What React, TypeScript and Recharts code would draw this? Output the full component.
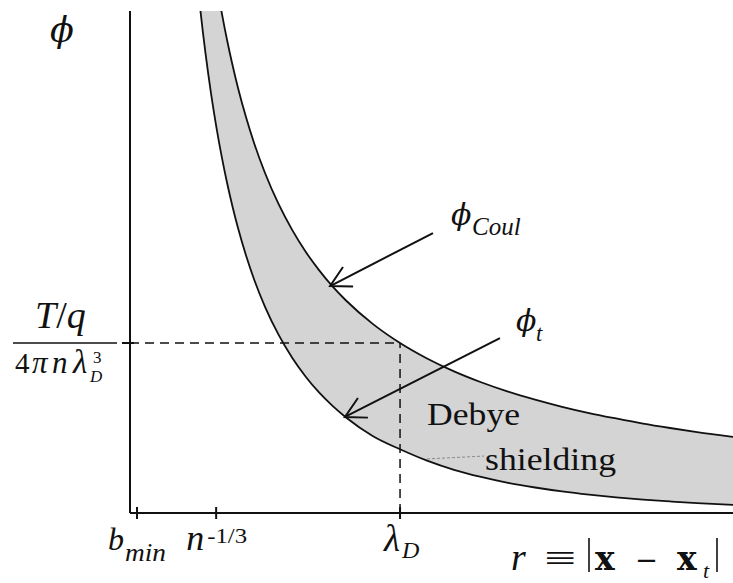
import React from 'react';
import { ComposedChart, Area, Line, XAxis, YAxis, ReferenceLine } from 'recharts';

// Separation r, in units of the Debye length λ_D
const radius = [
  0.24, 0.25, 0.26, 0.27, 0.28, 0.3, 0.32, 0.34, 0.36, 0.38, 0.4, 0.43, 0.46, 0.5, 0.55, 0.6, 0.65,
  0.7, 0.75, 0.8, 0.9, 1.0, 1.1, 1.2, 1.3, 1.4, 1.5, 1.6, 1.7, 1.8, 1.9, 2.0, 2.1, 2.233,
];
// Bare Coulomb potential, in units of (T/q)/(4π n λ_D³)
const phiCoul = [
  4.167, 4.0, 3.846, 3.704, 3.571, 3.333, 3.125, 2.941, 2.778, 2.632, 2.5, 2.326, 2.174, 2.0, 1.818,
  1.667, 1.538, 1.429, 1.333, 1.25, 1.111, 1.0, 0.909, 0.833, 0.769, 0.714, 0.667, 0.625, 0.588,
  0.556, 0.526, 0.5, 0.476, 0.448,
];
// Debye-shielded test-charge potential, same units
const phiShielded = [
  3.278, 3.115, 2.966, 2.827, 2.699, 2.469, 2.269, 2.093, 1.938, 1.8, 1.676, 1.513, 1.372, 1.213,
  1.049, 0.915, 0.803, 0.709, 0.63, 0.562, 0.452, 0.375, 0.308, 0.254, 0.212, 0.177, 0.15, 0.127,
  0.108, 0.092, 0.079, 0.068, 0.058, 0.048,
];

// Marked positions on the r axis: b_min, n^-1/3, λ_D
const rTicks = [0.026, 0.319, 1];
// Marked level on the potential axis
const phiTicks = [1];

// Annotation geometry, in data units
const coulArrow = [{ x: 1.122, y: 1.647 }, { x: 0.741, y: 1.335 }];
const shieldArrow = [{ x: 1.37, y: 1.029 }, { x: 0.796, y: 0.565 }];
const shieldPointer = [{ x: 1.1, y: 0.318 }, { x: 1.311, y: 0.335 }];
const levelLine = [{ x: 0, y: 1 }, { x: 1, y: 1 }];
const debyeLine = [{ x: 1, y: 0 }, { x: 1, y: 1 }];

const rows = radius.map((r, i) => ({
  r,
  coul: phiCoul[i],
  shielded: phiShielded[i],
  band: [phiShielded[i], phiCoul[i]],
}));

const INK = '#111';
const ROMAN = '"Liberation Serif", "DejaVu Serif", serif';
const WIDE = '"DejaVu Serif", "Liberation Serif", serif';

// Math-style glyph helpers; w sets a run's advance width
const It = ({ x, y, s, w, children }: any) => (
  <text
    x={x}
    y={y}
    fontSize={s}
    fontFamily={ROMAN}
    fontStyle="italic"
    fill={INK}
    textLength={w}
    lengthAdjust={w ? 'spacingAndGlyphs' : undefined}
  >
    {children}
  </text>
);
const Rm = ({ x, y, s, w, children, family }: any) => (
  <text
    x={x}
    y={y}
    fontSize={s}
    fontFamily={family || ROMAN}
    fill={INK}
    textLength={w}
    lengthAdjust={w ? 'spacingAndGlyphs' : undefined}
  >
    {children}
  </text>
);

const XTick = (props: any) => {
  const { x, y, index } = props;
  return (
    <g>
      <line x1={x} x2={x} y1={y - 6} y2={y + 6} stroke={INK} strokeWidth={2} />
      {index === 0 && (
        <g>
          <It x={x - 29} y={y + 37} s={32} w={16}>b</It>
          <It x={x - 12} y={y + 48} s={25} w={41}>min</It>
        </g>
      )}
      {index === 1 && (
        <g>
          <It x={x - 30} y={y + 37} s={36}>n</It>
          <Rm x={x - 9} y={y + 30} s={22} w={40}>-1/3</Rm>
        </g>
      )}
      {index === 2 && (
        <g>
          <It x={x - 16} y={y + 38} s={37}>λ</It>
          <It x={x + 2} y={y + 45} s={24}>D</It>
        </g>
      )}
    </g>
  );
};

const YTick = (props: any) => {
  const { x, y } = props;
  return (
    <g>
      <line x1={x - 8} x2={x + 4} y1={y} y2={y} stroke={INK} strokeWidth={2} />
      <text x={x - 95} y={y - 15} fontSize={38} fontFamily={ROMAN} fill={INK}>
        <tspan fontStyle="italic">T</tspan>
        <tspan>/</tspan>
        <tspan fontStyle="italic">q</tspan>
      </text>
      <line x1={x - 117} x2={x - 13} y1={y} y2={y} stroke={INK} strokeWidth={1.5} />
      <Rm x={x - 115} y={y + 30} s={29}>4</Rm>
      <It x={x - 98} y={y + 30} s={31}>π</It>
      <It x={x - 78} y={y + 30} s={31}>n</It>
      <It x={x - 57} y={y + 30} s={33}>λ</It>
      <Rm x={x - 37} y={y + 20} s={17}>3</Rm>
      <It x={x - 40} y={y + 39} s={17}>D</It>
    </g>
  );
};

const PhiAxisLabel = (props: any) => {
  const vb = props.viewBox || { x: 0, y: 11 };
  return (
    <text x={vb.x + 50} y={vb.y + 31} fontFamily={WIDE} fontSize={35} fontStyle="italic" fill={INK}>
      ϕ
    </text>
  );
};

const RAxisLabel = (props: any) => {
  const vb = props.viewBox || { x: 130, y: 513 };
  const bx = vb.x;
  const by = vb.y + 57;
  return (
    <g>
      <It x={bx + 381} y={by} s={38}>r</It>
      <Rm x={bx + 414} y={by} s={36} w={32}>≡</Rm>
      <line x1={bx + 459} x2={bx + 459} y1={by - 32} y2={by + 2} stroke={INK} strokeWidth={1.6} />
      <text x={bx + 465} y={by} fontSize={33} fontFamily={WIDE} fontWeight="bold" fill={INK}>x</text>
      <Rm x={bx + 505} y={by} s={29} w={23} family={WIDE}>−</Rm>
      <text x={bx + 547} y={by} fontSize={33} fontFamily={WIDE} fontWeight="bold" fill={INK}>x</text>
      <It x={bx + 573} y={by + 8} s={22}>t</It>
      <line x1={bx + 587} x2={bx + 587} y1={by - 32} y2={by + 2} stroke={INK} strokeWidth={1.6} />
    </g>
  );
};

const arrowHead = (x1: number, y1: number, x2: number, y2: number) => {
  const ang = Math.atan2(y1 - y2, x1 - x2);
  const len = 23;
  const spread = 0.5;
  const ax = x2 + len * Math.cos(ang - spread);
  const ay = y2 + len * Math.sin(ang - spread);
  const bx = x2 + len * Math.cos(ang + spread);
  const by = y2 + len * Math.sin(ang + spread);
  return `${ax},${ay} ${x2},${y2} ${bx},${by}`;
};

const CoulArrow = (p: any) => {
  const { x1, y1, x2, y2 } = p;
  return (
    <g>
      <line x1={x1} y1={y1} x2={x2} y2={y2} stroke={INK} strokeWidth={2} />
      <polyline points={arrowHead(x1, y1, x2, y2)} fill="none" stroke={INK} strokeWidth={2} />
      <text x={x1 + 18} y={y1 - 8} fontSize={30} fontFamily={WIDE} fontStyle="italic" fill={INK}>ϕ</text>
      <It x={x1 + 39} y={y1 + 2} s={25}>Coul</It>
    </g>
  );
};

const ShieldArrow = (p: any) => {
  const { x1, y1, x2, y2 } = p;
  return (
    <g>
      <line x1={x1} y1={y1} x2={x2} y2={y2} stroke={INK} strokeWidth={2} />
      <polyline points={arrowHead(x1, y1, x2, y2)} fill="none" stroke={INK} strokeWidth={2} />
      <text x={x1 + 16} y={y1 - 7} fontSize={30} fontFamily={WIDE} fontStyle="italic" fill={INK}>ϕ</text>
      <It x={x1 + 36} y={y1 + 3} s={23}>t</It>
    </g>
  );
};

const ShieldPointer = (p: any) => {
  const { x1, y1, x2, y2 } = p;
  return (
    <g>
      <line x1={x1} y1={y1} x2={x2} y2={y2} stroke="#8a8a8a" strokeWidth={1} strokeDasharray="3 2" />
      <text x={x1} y={y1 - 34} fontSize={31} fontFamily={ROMAN} fill={INK} textLength={93} lengthAdjust="spacingAndGlyphs">
        Debye
      </text>
      <text x={x2 + 1} y={y1 + 11} fontSize={31} fontFamily={ROMAN} fill={INK} textLength={131} lengthAdjust="spacingAndGlyphs">
        shielding
      </text>
    </g>
  );
};

export default function App() {
  return (
    <div style={{ position: 'absolute', left: 0, top: 0, background: '#fff' }}>
      <ComposedChart
        width={733}
        height={583}
        data={rows}
        margin={{ top: 11, right: 0, bottom: 0, left: 0 }}
      >
        <XAxis
          dataKey="r"
          type="number"
          domain={[0, 2.233]}
          allowDataOverflow
          ticks={rTicks}
          interval={0}
          tickSize={0}
          tickMargin={0}
          tickLine={false}
          tick={<XTick />}
          axisLine={{ stroke: INK, strokeWidth: 2 }}
          height={70}
          label={{ content: <RAxisLabel /> }}
        />
        <YAxis
          type="number"
          domain={[0, 2.953]}
          allowDataOverflow
          ticks={phiTicks}
          interval={0}
          tickSize={0}
          tickMargin={0}
          tickLine={false}
          tick={<YTick />}
          axisLine={{ stroke: INK, strokeWidth: 2 }}
          width={130}
          label={{ content: <PhiAxisLabel /> }}
        />
        <Area
          dataKey="band"
          type="monotone"
          fill="#d4d4d4"
          fillOpacity={1}
          stroke="none"
          isAnimationActive={false}
        />
        <Line dataKey="coul" type="monotone" stroke={INK} strokeWidth={1.8} dot={false} isAnimationActive={false} />
        <Line dataKey="shielded" type="monotone" stroke={INK} strokeWidth={1.8} dot={false} isAnimationActive={false} />
        <ReferenceLine segment={levelLine} stroke={INK} strokeWidth={1.5} strokeDasharray="9 6" />
        <ReferenceLine segment={debyeLine} stroke={INK} strokeWidth={1.5} strokeDasharray="9 6" />
        <ReferenceLine segment={shieldPointer} shape={ShieldPointer} />
        <ReferenceLine segment={coulArrow} shape={CoulArrow} />
        <ReferenceLine segment={shieldArrow} shape={ShieldArrow} />
      </ComposedChart>
    </div>
  );
}
